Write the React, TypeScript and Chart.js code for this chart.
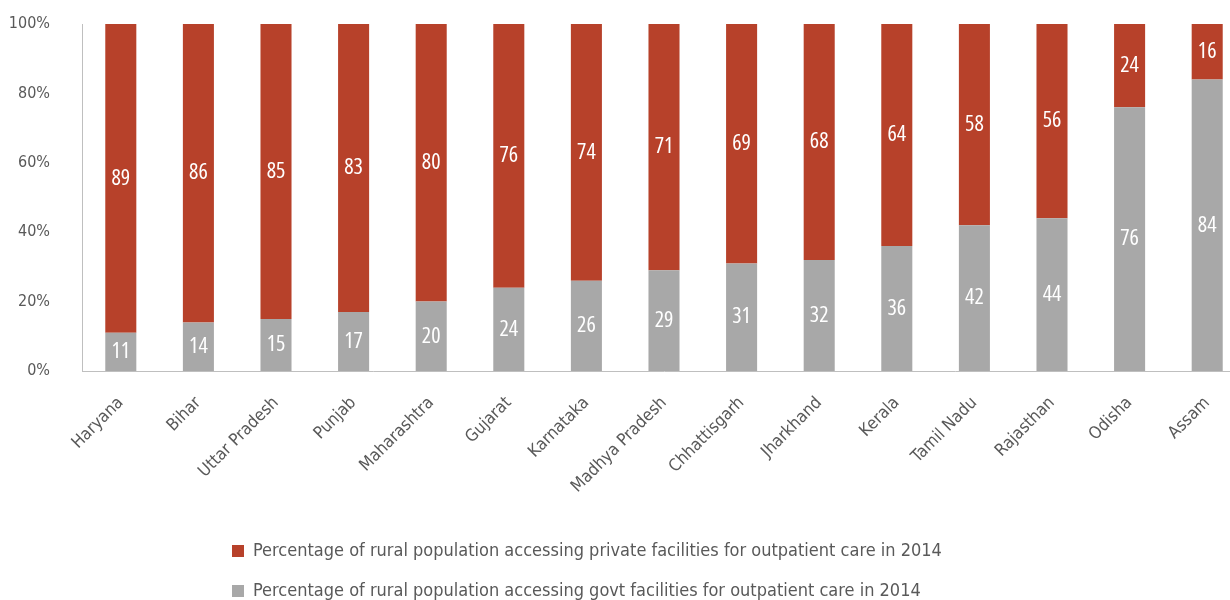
import React, { useEffect, useRef } from "react";
import { Chart, registerables } from "chart.js";
Chart.register(...registerables);

const FONT = "'DejaVu Sans Condensed', 'DejaVu Sans', sans-serif";
const LABEL_FONT = "condensed 22px 'Open Sans', sans-serif";

const states = [
  "Haryana", "Bihar", "Uttar Pradesh", "Punjab", "Maharashtra", "Gujarat", "Karnataka",
  "Madhya Pradesh", "Chhattisgarh", "Jharkhand", "Kerala", "Tamil Nadu", "Rajasthan", "Odisha", "Assam",
];
const govtValues = [11, 14, 15, 17, 20, 24, 26, 29, 31, 32, 36, 42, 44, 76, 84];
const privateValues = [89, 86, 85, 83, 80, 76, 74, 71, 69, 68, 64, 58, 56, 24, 16];
const privateLabel = "Percentage of rural population accessing private facilities for outpatient care in 2014";
const govtLabel = "Percentage of rural population accessing govt facilities for outpatient care in 2014";

const RED = "#B7412A";
const GRAY = "#A8A8A8";
const TEXT = "#595959";

const segLabels = {
  id: "segLabels",
  afterDatasetsDraw(chart: any) {
    const ctx = chart.ctx;
    ctx.save();
    ctx.font = LABEL_FONT;
    ctx.fillStyle = "#ffffff";
    ctx.textAlign = "center";
    ctx.textBaseline = "middle";
    chart.data.datasets.forEach((ds: any, i: number) => {
      const meta = chart.getDatasetMeta(i);
      meta.data.forEach((el: any, j: number) => {
        const { x, y, base } = el.getProps(["x", "y", "base"], true);
        ctx.fillText(String(ds.data[j]), x, (y + base) / 2);
      });
    });
    ctx.restore();
  },
};

const legendShift = {
  id: "legendShift",
  afterLayout(chart: any) {
    const l = chart.legend;
    if (l) {
      l.left += 210;
      l.right += 210;
    }
  },
};

export default function App() {
  const ref = useRef<HTMLCanvasElement>(null);
  useEffect(() => {
    document.body.style.margin = "0";
    document.documentElement.style.overflow = "hidden";
    const chart = new Chart(ref.current!, {
      type: "bar",
      data: {
        labels: states,
        datasets: [
          { label: govtLabel, data: govtValues, backgroundColor: GRAY, borderWidth: 0 },
          { label: privateLabel, data: privateValues, backgroundColor: RED, borderWidth: 0 },
        ],
      },
      options: {
        responsive: false,
        animation: false,
        layout: { padding: { top: 24, left: 0, right: 0, bottom: 0 } },
        datasets: { bar: { categoryPercentage: 0.4, barPercentage: 1 } } as any,
        scales: {
          x: {
            stacked: true,
            grid: { display: false, drawTicks: false },
            border: { display: true, color: "#BFBFBF", width: 1 },
            ticks: {
              color: TEXT,
              font: { family: FONT, size: 17 },
              maxRotation: 45,
              minRotation: 45,
              padding: 22,
              autoSkip: false,
            },
            afterFit: (s: any) => {
              s.height = 149;
            },
          },
          y: {
            stacked: true,
            min: 0,
            max: 100,
            grid: { display: false, drawTicks: false },
            border: { display: true, color: "#BFBFBF", width: 1 },
            ticks: {
              stepSize: 20,
              color: TEXT,
              font: { family: FONT, size: 16 },
              padding: 32,
              callback: (v: any) => `${v}%`,
            },
            afterFit: (s: any) => {
              s.width = 82;
              s.paddingTop = 0;
              s.paddingBottom = 0;
            },
          },
        },
        plugins: {
          legend: {
            position: "bottom",
            align: "start",
            reverse: true,
            labels: {
              boxWidth: 12,
              boxHeight: 12,
              padding: 22,
              color: TEXT,
              font: { family: FONT, size: 18 },
            },
          },
          tooltip: { enabled: false },
        },
      },
      plugins: [segLabels, legendShift],
    });
    return () => chart.destroy();
  }, []);
  return (
    <div style={{ width: 1230, height: 600, overflow: "hidden" }}>
      <canvas ref={ref} width={1246} height={610} />
    </div>
  );
}
